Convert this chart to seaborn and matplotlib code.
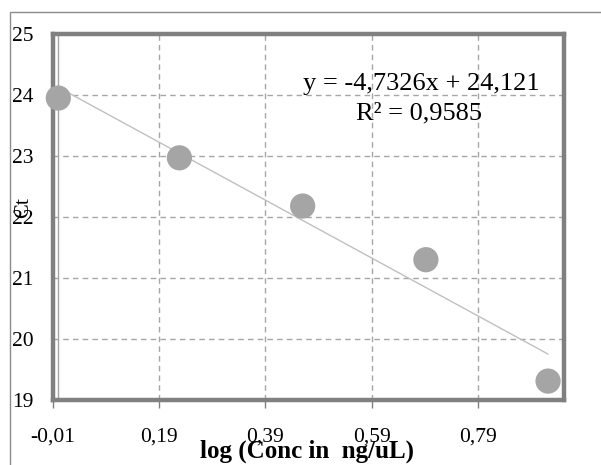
import matplotlib
matplotlib.use("Agg")
import matplotlib.pyplot as plt
import seaborn as sns
import pandas as pd
from matplotlib.patches import Rectangle

# Data
log_conc = [0.0, 0.228, 0.46, 0.692, 0.922]
ct = [23.95, 22.97, 22.18, 21.30, 19.31]
x_ticks = [-0.01, 0.19, 0.39, 0.59, 0.79]
x_tick_labels = ["-0,01", "0,19", "0,39", "0,59", "0,79"]
y_ticks = [19, 20, 21, 22, 23, 24, 25]
y_tick_labels = ["19", "20", "21", "22", "23", "24", "25"]
equation = "y = -4,7326x + 24,121"
r2_text = "R² = 0,9585"

df = pd.DataFrame({"log_conc": log_conc, "ct": ct})

sns.set_theme(style="white")
plt.rcParams["font.family"] = ["Liberation Serif", "DejaVu Serif"]

W, H = 601, 465
fig = plt.figure(figsize=(W / 100, H / 100), dpi=100)
fig.patch.set_facecolor("white")

# outer chart border (only top/left visible)
fig.add_artist(Rectangle((10 / W, -0.1), 1.2, (H - 12) / H + 0.1,
                         transform=fig.transFigure, fill=False,
                         edgecolor="#8c8c8c", linewidth=1.0))

ax = fig.add_axes([53 / W, (H - 400) / H, (564 - 53) / W, (400 - 34) / H])
ax.set_facecolor("white")

ax.set_xlim(-0.01, 0.952)
ax.set_ylim(19, 25)

ax.set_xticks(x_ticks)
ax.set_xticklabels(x_tick_labels)
ax.set_yticks(y_ticks)
ax.set_yticklabels(y_tick_labels)

grid_kw = dict(color="#a6a6a6", lw=1.0, ls=(0, (4, 3)), zorder=0)
for xv in x_ticks[1:] + [0.99]:
    ax.axvline(xv, **grid_kw)
for yv in y_ticks[1:-1]:
    ax.axhline(yv, **grid_kw)

# vertical axis line at x = 0 (Excel style)
ax.axvline(0, color="#a6a6a6", lw=1.0, zorder=1)

sns.regplot(data=df, x="log_conc", y="ct", ax=ax, ci=None,
            scatter_kws=dict(s=330, color="#a5a5a5", edgecolor="none",
                             alpha=1, zorder=3, clip_on=False),
            line_kws=dict(color="#c0c0c0", lw=1.0, zorder=2))

for sp in ax.spines.values():
    sp.set_visible(True)
    sp.set_color("#808080")
    sp.set_linewidth(3.2)

ax.tick_params(axis="x", length=6, width=1, color="#808080", pad=14,
               labelsize=15.5, labelcolor="black", bottom=True)
ax.tick_params(axis="y", length=0, pad=14, labelsize=15.5, labelcolor="black",
               left=True)

ax.set_xlabel("log (Conc in  ng/uL)", fontsize=18, fontweight="bold",
              color="black")
ax.xaxis.set_label_coords((307 - 53) / (564 - 53), (400 - 451) / (400 - 34))
ax.xaxis.label.set_va("center")
ax.set_ylabel("")

fig.text(24 / W, 1 - 208 / H, "Ct", rotation=90, fontsize=16,
         ha="center", va="center", color="black")

fig.text(421 / W, 1 - 84 / H, equation, fontsize=19, ha="center",
         va="center", color="black")
fig.text(419 / W, 1 - 113 / H, r2_text, fontsize=19, ha="center",
         va="center", color="black")

fig.savefig("out.png", dpi=100, facecolor="white")
